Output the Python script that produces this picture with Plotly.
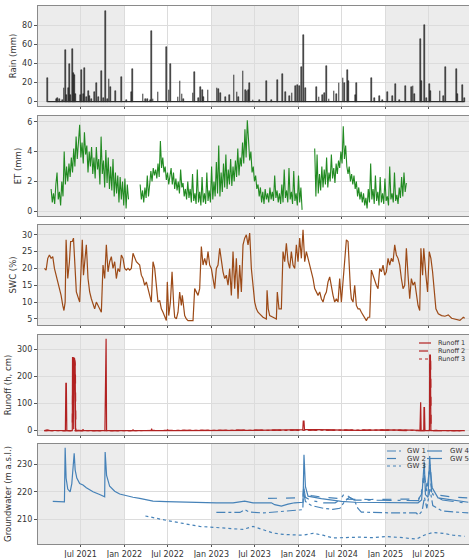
import pandas as pd
import plotly.graph_objects as go

BASE_DATE = "2021-01-01"

# ---------------- Rain (day offset from BASE_DATE, mm) ----------------
rain_day = [42, 78, 85, 92, 104, 111, 116, 122, 130, 136, 140, 146, 150, 154, 160, 179, 185, 192,
            199, 206, 213, 219, 226, 240, 247, 255, 270, 277, 286, 293, 300, 307, 329, 352, 373,
            396, 399, 443, 452, 462, 473, 479, 485, 506, 541, 552, 559, 590, 598, 607, 614, 653,
            660, 677, 685, 692, 698, 716, 754, 761, 768, 790, 807, 825, 838, 845, 863, 873, 880,
            887, 891, 905, 933, 961, 982, 1007, 1028, 1041, 1059, 1069, 1083, 1091, 1101, 1110,
            1117, 1126, 1171, 1182, 1196, 1205, 1213, 1224, 1245, 1255, 1266, 1283, 1290, 1300,
            1306, 1334, 1339, 1402, 1416, 1437, 1449, 1470, 1491, 1503, 1521, 1547, 1570, 1577,
            1584, 1608, 1614, 1625, 1634, 1645, 1650, 1690, 1704, 1712, 1760, 1765, 1785, 1792]
rain_mm = [25, 3, 4, 3, 2, 14, 54, 7, 14, 39, 7, 55, 30, 28, 8, 7, 33, 8,
           35, 5, 11, 6, 3, 10, 20, 5, 32, 4, 95, 3, 24, 15, 11, 26, 2,
           10, 34, 8, 3, 3, 2, 74, 3, 10, 57, 12, 40, 5, 22, 8, 3, 9,
           31, 4, 15, 12, 5, 12, 14, 13, 9, 5, 7, 28, 10, 5, 32, 12, 11,
           12, 20, 2, 2, 22, 2, 23, 29, 10, 6, 9, 16, 17, 16, 36,
           70, 14, 15, 5, 7, 9, 37, 3, 11, 8, 19, 25, 20, 33,
           22, 7, 19, 25, 4, 6, 2, 10, 6, 18, 2, 16, 15, 16,
           8, 66, 22, 80, 4, 18, 11, 11, 6, 36, 34, 8, 17, 4]

# ---------------- ET (mm), 5-day records in three measured periods ----------------
et_start = ["2021-02-27", "2022-03-08", "2024-03-10"]
et_step_days = 5
et_seg1 = [1.5, 0.6, 1.2, 0.5, 1.8, 2.6, 0.8, 1.3, 0.4, 2.0, 1.0, 4.0, 1.8, 3.0, 2.0, 3.2, 2.3,
           3.6, 2.6, 4.2, 3.0, 5.0, 3.5, 4.4, 5.8, 3.6, 4.6, 3.2, 5.3, 3.8, 4.4, 2.6, 4.0, 3.0,
           4.3, 2.5, 3.6, 2.2, 4.3, 2.8, 3.5, 1.8, 5.0, 2.5, 3.4, 1.6, 4.1, 1.9, 3.6, 1.5, 3.0,
           1.4, 3.5, 1.0, 2.6, 1.2, 2.4, 0.6, 2.3, 0.8, 2.0, 0.4, 2.2, 0.2, 1.8, 0.8]
et_seg2 = [1.8, 0.8, 1.4, 0.6, 1.6, 0.9, 2.4, 1.0, 1.8, 2.7, 2.0, 2.9, 2.4, 2.8, 2.2, 3.2, 2.3,
           4.7, 2.9, 3.6, 2.6, 3.0, 2.1, 2.6, 1.8, 2.3, 2.9, 1.8, 2.6, 1.5, 2.2, 1.4, 2.0, 1.2,
           2.8, 1.6, 1.9, 1.0, 1.5, 0.8, 2.0, 0.9, 1.5, 0.6, 2.5, 0.7, 1.2, 0.5, 2.8, 0.6, 1.3,
           0.4, 2.3, 0.6, 1.2, 0.5, 2.6, 0.7, 1.4, 0.6, 3.0, 0.8, 2.0, 1.0, 3.3, 1.2, 4.4, 1.0,
           2.6, 1.3, 3.2, 1.6, 3.8, 1.5, 2.8, 1.8, 3.5, 1.7, 3.0, 2.0, 3.4, 2.3, 4.2, 2.4, 3.6,
           3.0, 4.6, 3.2, 5.5, 3.6, 6.1, 4.8, 3.4, 4.0, 2.6, 3.0, 2.0, 2.4, 1.5, 1.8, 1.0, 1.6,
           0.6, 1.3, 0.5, 1.5, 0.8, 1.2, 0.6, 1.6, 0.8, 1.3, 0.7, 2.4, 0.9, 1.4, 0.6, 1.2, 0.5,
           1.8, 0.6, 2.8, 0.9, 1.4, 0.6, 2.9, 0.8, 1.3, 0.5, 2.7, 0.7, 1.2, 0.4, 2.4, 0.6, 1.6, 0.1]
et_seg3 = [4.2, 1.0, 3.8, 1.2, 2.5, 1.4, 3.0, 1.6, 2.8, 1.8, 3.6, 1.6, 2.6, 2.0, 3.8, 2.2, 2.9,
           1.9, 3.2, 2.5, 3.4, 2.9, 4.0, 3.2, 5.7, 3.5, 4.4, 3.0, 2.5, 3.0, 2.0, 2.5, 1.8, 2.4,
           1.5, 2.0, 1.0, 1.6, 0.8, 1.3, 0.6, 1.2, 0.4, 0.9, 0.2, 1.5, 0.6, 3.2, 0.8, 1.5, 0.5,
           2.4, 0.7, 1.3, 0.4, 2.3, 0.6, 1.2, 0.5, 2.2, 0.7, 1.0, 0.4, 3.0, 0.8, 1.2, 0.6, 2.6,
           0.7, 1.1, 0.5, 1.6, 0.9, 2.3, 1.0, 2.6, 1.3, 1.9]

# ---------------- SWC (%) ----------------
swc_day = [29, 36, 43, 50, 57, 64, 71, 78, 85, 92, 99, 106, 111, 116, 120, 127, 134, 139, 146, 151,
           156, 163, 177, 188, 193, 205, 212, 219, 226, 233, 240, 247, 254, 261, 268, 275, 282,
           289, 296, 303, 310, 317, 324, 331, 338, 345, 352, 359, 366, 373, 380, 387, 394, 401,
           415, 429, 436, 443, 450, 457, 464, 471, 478, 485, 492, 499, 506, 513, 520, 527, 534,
           541, 545, 551, 558, 565, 572, 576, 583, 590, 597, 604, 608, 614, 618, 625, 632, 646,
           653, 660, 667, 674, 681, 688, 695, 702, 709, 716, 723, 730, 737, 744, 751, 758, 765,
           772, 779, 786, 793, 800, 807, 814, 821, 828, 835, 842, 849, 856, 863, 870, 877, 884,
           891, 898, 905, 912, 919, 926, 933, 947, 961, 964, 969, 975, 989, 1003, 1007, 1014,
           1024, 1031, 1038, 1045, 1052, 1059, 1066, 1073, 1080, 1087, 1094, 1101, 1108, 1115,
           1122, 1129, 1136, 1143, 1150, 1157, 1164, 1171, 1178, 1185, 1192, 1199, 1206, 1213,
           1220, 1227, 1234, 1241, 1248, 1255, 1262, 1269, 1276, 1283, 1290, 1297, 1304, 1308,
           1314, 1318, 1325, 1332, 1339, 1346, 1353, 1360, 1367, 1374, 1381, 1388, 1395, 1402,
           1409, 1416, 1423, 1430, 1437, 1444, 1451, 1458, 1465, 1472, 1479, 1486, 1493, 1500,
           1507, 1514, 1521, 1528, 1535, 1542, 1549, 1556, 1563, 1570, 1577, 1584, 1591, 1598,
           1605, 1610, 1617, 1622, 1631, 1638, 1645, 1652, 1659, 1666, 1673, 1683, 1697, 1711,
           1725, 1739, 1753, 1767, 1774, 1781, 1788, 1794]
swc_pct = [20, 19.5, 23, 24, 23, 23.5, 20, 18, 15.5, 14, 12, 9, 7.5, 10, 28.5, 17, 22, 28, 28, 29,
           22, 13, 10, 28.5, 18, 27, 17, 13, 11, 9.5, 8, 10, 9, 8, 7, 21, 17,
           27, 19, 22, 23.5, 20, 22, 17, 20, 19, 24, 23, 20, 19.5, 20, 19.5, 20, 24.5,
           22, 21, 18, 17, 15, 16, 13.5, 12, 10, 22, 20, 15, 10, 10.5, 8, 7, 5.5,
           4.5, 16, 6, 10, 19, 9, 5.5, 5, 7, 13, 9, 12, 8, 6, 5, 4.5, 4.5,
           4.5, 14, 13, 12, 14, 26.5, 21, 23, 21, 25, 21, 20, 17, 14, 20, 21, 26,
           22, 19, 17, 18, 15, 20, 12, 25, 14, 23, 11, 21, 13, 27, 29, 30, 27,
           30.5, 20, 14, 10, 8, 7, 6.5, 5.5, 5, 13.5, 8, 6, 5.5, 5, 13, 8,
           8, 25, 22, 27.5, 22, 20, 25, 21, 20, 27, 22, 29, 23, 31.5,
           22, 25, 23, 21, 19, 17, 14, 13, 12, 13, 11, 10, 12, 13,
           16, 17.5, 14, 12, 10, 11, 10, 17, 10, 17, 22, 28.5, 28, 20,
           14, 11, 10, 15, 9, 8, 8, 7, 6, 5.5, 4.5, 5.5, 5.5, 19.5,
           18, 16, 15, 14, 20, 19, 21, 18, 19, 23, 21, 23, 22, 27,
           24, 23, 21, 17, 14, 15, 26, 18, 11, 17, 15, 16, 12, 9,
           7.5, 26, 18, 26, 18, 13, 25, 23, 19, 13, 8, 6.5, 6, 5.8,
           6.2, 5.2, 5, 4.8, 4.6, 5, 5.5, 5.2]

# ---------------- Runoff (h, cm) ----------------
runoff1_day = [29, 40, 50, 110, 117, 119, 121, 123, 140, 146, 147, 150, 152, 155, 158, 160, 170, 190,
               191, 193, 283, 285, 288, 290, 400, 401, 403, 478, 479, 481, 544, 546, 550, 700, 900,
               1050, 1100, 1114, 1116, 1119, 1121, 1200, 1250, 1350, 1450, 1530, 1580, 1606, 1607,
               1609, 1611, 1622, 1623, 1625, 1627, 1646, 1647, 1650, 1652, 1700, 1794]
runoff1_val = [0, 3, 1, 0, 0, 175, 175, 0, 2, 0, 270, 270, 5, 270, 250, 0, 1, 0,
               6, 0, 0, 340, 340, 0, 0, 5, 0, 0, 8, 0, 0, 3, 0, 0, 1,
               3, 4, 4, 35, 35, 5, 3, 1, 1, 3, 4, 2, 0, 105,
               105, 0, 0, 85, 85, 0, 0, 280, 280, 0, 0, 0]
runoff2_day = [29, 146, 148, 152, 156, 159, 161, 300, 600, 900, 1100, 1400, 1605, 1647, 1648, 1651, 1653, 1794]
runoff2_val = [0, 0, 265, 240, 260, 230, 0, 1, 1, 2, 3, 2, 0, 0, 270, 260, 0, 0]
runoff3_day = [29, 400, 800, 1100, 1500, 1794]
runoff3_val = [0, 1, 1, 2, 2, 0]

# ---------------- Groundwater (m a.s.l.) ----------------
gw1_day = [751, 850, 870, 890, 950, 1000, 1050, 1100, 1114, 1117, 1125, 1150, 1200, 1240, 1270,
           1290, 1310, 1330, 1345, 1360, 1400, 1500, 1590, 1600, 1615, 1625, 1635, 1648, 1660,
           1700, 1809]
gw1_val = [212.5, 212.5, 213.5, 212.6, 212.3, 212.6, 213.0, 213.3, 213.5, 220, 216.5, 215, 214,
           213.6, 214, 216.5, 218, 217, 214, 212.6, 212.5, 212.3, 212.3, 211.5, 213, 218, 214,
           221, 215, 213, 212.3]
gw2_day = [968, 1115, 1117, 1125, 1150, 1200, 1260, 1300, 1400, 1500, 1600, 1612, 1620, 1628,
           1647, 1655, 1680, 1750, 1809]
gw2_val = [217.6, 217.8, 221, 219.5, 218.6, 218, 217.6, 217.3, 217.2, 217.3, 217.4, 219, 225,
           220, 228, 220, 218.8, 218, 217.8]
gw3_day = [453, 499, 541, 611, 681, 751, 821, 863, 905, 947, 989, 1031, 1073, 1115, 1157, 1199,
           1241, 1297, 1353, 1409, 1465, 1521, 1591, 1626, 1661, 1703, 1745, 1794]
gw3_val = [211.2, 210.3, 209.6, 208.5, 207.4, 207, 206.6, 206.3, 207.4, 206.3, 205, 204.5, 204.3,
           204.2, 204.9, 204.2, 203.2, 203.4, 203.5, 203.3, 203.7, 203.4, 202.8, 204.3, 205.2,
           204.9, 204.2, 203.8]
gw4_day = [64, 113, 116, 120, 127, 137, 144, 149, 154, 158, 165, 177, 191, 205, 233, 261, 282,
           284, 290, 303, 324, 345, 373, 401, 429, 457, 485, 541, 625, 681, 751, 821, 870, 905,
           961, 982, 996, 1024, 1052, 1080, 1115, 1119, 1125, 1136, 1192, 1276, 1332, 1472,
           1598, 1613, 1624, 1629, 1640, 1647, 1654, 1682, 1809]
gw4_val = [216.5, 216.3, 236, 225, 221, 220, 223, 229, 234, 228, 225, 223, 222.5, 221.5, 220,
           219, 218.2, 234.5, 226, 222, 220.2, 219.2, 218.5, 218, 217.6, 217, 216.6, 216.4,
           216.2, 216, 216, 216, 216.6, 216, 216, 216, 215.3, 214.8, 215.5, 216, 216.2, 233.5,
           222, 218.4, 217.5, 216.5, 216.2, 216, 216, 217, 231, 219, 218, 233, 222, 217.8, 216.2]
gw5_day = [1117, 1125, 1150, 1200, 1250, 1270, 1290, 1310, 1330, 1400, 1500, 1600, 1615, 1625,
           1635, 1648, 1660, 1700, 1809]
gw5_val = [222, 218, 216.8, 216, 216, 217, 219.5, 218, 217, 217, 216.8, 216.8, 221, 226, 220,
           230, 219, 217, 215.8]

# ---------------- Axes ----------------
shade_periods = [("2020-12-01", "2022-01-01"), ("2023-01-01", "2024-01-01"), ("2025-01-01", "2026-01-31")]
x_range = ["2021-01-03", "2025-12-18"]
y_titles = ["Rain (mm)", "ET (mm)", "SWC (%)", "Runoff (h, cm)", "Groundwater (m a.s.l.)"]
y_ranges = [[-4.7, 100.5], [-0.31, 6.38], [3.2, 32.9], [-16, 354], [201, 237.4]]
y_ticks = [[0, 20, 40, 60, 80], [0, 2, 4, 6], [5, 10, 15, 20, 25, 30], [0, 100, 200, 300], [210, 220, 230]]


def to_dates(days):
    base = pd.Timestamp(BASE_DATE)
    return [base + pd.Timedelta(days=int(d)) for d in days]


# ET series with gaps between measured periods
et_x, et_y = [], []
for start, seg in zip(et_start, [et_seg1, et_seg2, et_seg3]):
    dates = pd.date_range(start, periods=len(seg), freq=f"{et_step_days}D")
    et_x += list(dates) + [None]
    et_y += list(seg) + [None]

C_RAIN = "#2e2e2e"
C_ET = "#228b22"
C_SWC = "#9c4a17"
C_RUN = "#b22222"
C_GW = "#4682b8"

fig = go.Figure()
rain_dates = to_dates(rain_day)
fig.add_trace(go.Scatter(x=[rain_dates[0], rain_dates[-1]], y=[0, 0], mode="lines",
                         line=dict(color=C_RAIN, width=1.2), xaxis="x", yaxis="y", showlegend=False))
fig.add_trace(go.Bar(x=rain_dates, y=rain_mm, width=3.5 * 86400000,
                     marker=dict(color="#4a4a4a", line=dict(color="#111111", width=0.5)),
                     xaxis="x", yaxis="y", showlegend=False))
fig.add_trace(go.Scatter(x=et_x, y=et_y, mode="lines", connectgaps=False,
                         line=dict(color=C_ET, width=1.1), xaxis="x2", yaxis="y2", showlegend=False))
fig.add_trace(go.Scatter(x=to_dates(swc_day), y=swc_pct, mode="lines",
                         line=dict(color=C_SWC, width=1.2), xaxis="x3", yaxis="y3", showlegend=False))

runoff_series = [("Runoff 1", runoff1_day, runoff1_val, "solid"),
                 ("Runoff 2", runoff2_day, runoff2_val, "dash"),
                 ("Runoff 3", runoff3_day, runoff3_val, "dot")]
for name, d, v, dash in runoff_series:
    fig.add_trace(go.Scatter(x=to_dates(d), y=v, mode="lines", name=name, showlegend=False,
                             line=dict(color=C_RUN, width=1.2, dash=dash),
                             xaxis="x4", yaxis="y4"))

gw_series = [("GW 1", gw1_day, gw1_val, "dashdot"),
             ("GW 2", gw2_day, gw2_val, "dash"),
             ("GW 3", gw3_day, gw3_val, "dot"),
             ("GW 4", gw4_day, gw4_val, "solid"),
             ("GW 5", gw5_day, gw5_val, "longdashdot")]
for name, d, v, dash in gw_series:
    fig.add_trace(go.Scatter(x=to_dates(d), y=v, mode="lines", name=name, showlegend=False,
                             line=dict(color=C_GW, width=1.2, dash=dash),
                             xaxis="x5", yaxis="y5"))

# ---------------- layout ----------------
W, H = 469, 558
M_L, M_R, M_T, M_B = 38, 0, 6, 14
domains = [[0.8141, 1.0], [0.6097, 0.7955], [0.4071, 0.5929], [0.2026, 0.3885], [0.0, 0.1859]]
font_family = "DejaVu Sans, Liberation Sans, sans-serif"
layout = dict(
    width=W, height=H,
    margin=dict(l=M_L, r=M_R, t=M_T, b=M_B),
    paper_bgcolor="white", plot_bgcolor="white",
    font=dict(family=font_family, size=8, color="#333"),
    bargap=0, showlegend=False,
)
for i in range(5):
    sfx = "" if i == 0 else str(i + 1)
    layout["xaxis" + sfx] = dict(
        domain=[0, 1], anchor="y" + sfx, type="date", range=x_range, automargin=False,
        matches=None if i == 0 else "x",
        tick0="2021-07-01", dtick="M6", tickformat="%b %Y",
        showticklabels=(i == 4), ticks="outside", ticklen=2, tickcolor="#555",
        showgrid=True, gridcolor="#dcdcdc", gridwidth=0.8,
        showline=True, linecolor="#8a8a8a", linewidth=1.2, mirror=True,
        zeroline=False, tickfont=dict(size=8, color="#333"),
    )
    layout["yaxis" + sfx] = dict(
        domain=domains[i], anchor="x" + sfx, range=y_ranges[i], tickvals=y_ticks[i], automargin=False,
        ticks="outside", ticklen=3, tickcolor="#555",
        showgrid=True, gridcolor="#dcdcdc", gridwidth=0.8,
        showline=True, linecolor="#8a8a8a", linewidth=1.2,
        zeroline=False, tickfont=dict(size=8, color="#333"),
        title=dict(text=y_titles[i], font=dict(size=8.5, color="#333"), standoff=4),
    )

shapes = []
for i in range(5):
    sfx = "" if i == 0 else str(i + 1)
    for s, e in shade_periods:
        shapes.append(dict(type="rect", xref="x" + sfx, yref=f"y{sfx} domain", x0=s, x1=e, y0=0, y1=1,
                           fillcolor="#ececec", line=dict(width=0), layer="below"))

# compact hand-built legends (pixel positions -> paper coords)
def px_x(px):
    return (px - M_L) / (W - M_L - M_R)


def px_y(py):
    return (H - M_B - py) / (H - M_T - M_B)


annotations = []


def legend_entry(x0, x1, xt, y, label, color, dash, size=7):
    shapes.append(dict(type="line", xref="paper", yref="paper", x0=px_x(x0), x1=px_x(x1),
                       y0=px_y(y), y1=px_y(y), line=dict(color=color, width=1.2, dash=dash)))
    annotations.append(dict(xref="paper", yref="paper", x=px_x(xt), y=px_y(y), text=label,
                            showarrow=False, xanchor="left", yanchor="middle",
                            font=dict(size=size, color="#333")))


for k, (name, _, _, dash) in enumerate(runoff_series):
    legend_entry(419, 431, 436, 343 + 8 * k, name, C_RUN, dash, size=6.5)
for k, (name, _, _, dash) in enumerate(gw_series):
    col, row = divmod(k, 3)
    if col == 0:
        legend_entry(387, 401, 405, 451 + 7.5 * row, name, C_GW, dash)
    else:
        legend_entry(427, 442, 448, 451 + 7.5 * row, name, C_GW, dash)

layout["shapes"] = shapes
layout["annotations"] = annotations

fig.update_layout(**layout)
fig.write_html("out.html", config={"displayModeBar": False},
               post_script="document.body.style.margin='0';document.body.style.overflow='hidden';")
